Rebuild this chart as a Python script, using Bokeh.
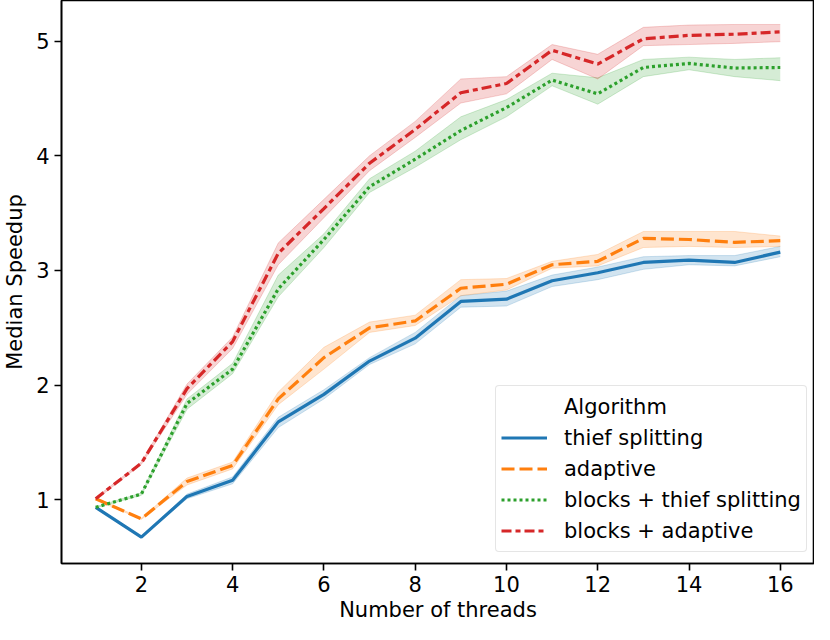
from bokeh.plotting import figure
from bokeh.models import Range1d, FixedTicker, Legend, LegendItem, ColumnDataSource
from bokeh.embed import file_html
from bokeh.resources import INLINE

threads = list(range(1, 17))

thief = [0.935, 0.675, 1.03, 1.17, 1.68, 1.92, 2.21, 2.41, 2.73, 2.75, 2.91, 2.98, 3.07, 3.09, 3.07, 3.16]
thief_lo = [0.93, 0.67, 1.01, 1.14, 1.63, 1.88, 2.18, 2.36, 2.68, 2.69, 2.86, 2.92, 3.01, 3.05, 3.04, 3.12]
thief_hi = [0.94, 0.68, 1.05, 1.20, 1.72, 1.96, 2.24, 2.46, 2.78, 2.82, 2.96, 3.03, 3.12, 3.13, 3.13, 3.21]

adaptive = [1.01, 0.835, 1.16, 1.30, 1.88, 2.24, 2.50, 2.56, 2.845, 2.88, 3.05, 3.08, 3.28, 3.27, 3.245, 3.26]
adaptive_lo = [1.00, 0.83, 1.13, 1.27, 1.83, 2.14, 2.46, 2.52, 2.78, 2.83, 3.02, 3.04, 3.20, 3.21, 3.20, 3.21]
adaptive_hi = [1.02, 0.84, 1.19, 1.33, 1.94, 2.33, 2.55, 2.61, 2.92, 2.93, 3.08, 3.14, 3.34, 3.34, 3.34, 3.30]

blocks_thief = [0.935, 1.05, 1.84, 2.14, 2.84, 3.27, 3.73, 3.97, 4.22, 4.42, 4.66, 4.54, 4.77, 4.805, 4.765, 4.77]
blocks_thief_lo = [0.93, 1.04, 1.79, 2.10, 2.77, 3.20, 3.68, 3.90, 4.14, 4.34, 4.61, 4.45, 4.69, 4.75, 4.69, 4.655]
blocks_thief_hi = [0.94, 1.06, 1.88, 2.19, 2.96, 3.32, 3.80, 4.04, 4.34, 4.49, 4.72, 4.68, 4.84, 4.86, 4.84, 4.855]

blocks_adaptive = [1.01, 1.32, 1.97, 2.38, 3.15, 3.54, 3.935, 4.23, 4.55, 4.63, 4.92, 4.80, 5.02, 5.05, 5.06, 5.08]
blocks_adaptive_lo = [1.00, 1.31, 1.92, 2.32, 3.05, 3.46, 3.87, 4.16, 4.46, 4.54, 4.84, 4.67, 4.96, 4.97, 4.98, 4.995]
blocks_adaptive_hi = [1.02, 1.33, 2.01, 2.42, 3.24, 3.62, 4.00, 4.30, 4.67, 4.69, 4.97, 4.885, 5.12, 5.14, 5.145, 5.145]

series_names = ["thief splitting", "adaptive", "blocks + thief splitting", "blocks + adaptive"]
legend_title = "Algorithm"
x_ticks = [2, 4, 6, 8, 10, 12, 14, 16]
y_ticks = [1, 2, 3, 4, 5]

colors = ["#1f77b4", "#ff7f0e", "#2ca02c", "#d62728"]
dashes = ["solid", "13 5", "3 3", "10 4 5 4"]

FONT = "DejaVu Sans"
FS = "21px"

p = figure(width=814, height=624, output_backend="svg", toolbar_location=None,
           x_range=Range1d(0.25, 16.75), y_range=Range1d(0.445, 5.354),
           min_border_left=50, min_border_right=0, min_border_top=0, min_border_bottom=60)
p.xgrid.visible = False
p.ygrid.visible = False
p.outline_line_color = "black"
p.outline_line_width = 1.6
p.background_fill_color = "white"
p.border_fill_color = "white"

for ax in (p.xaxis[0], p.yaxis[0]):
    ax.axis_line_width = 1.6
    ax.major_tick_line_width = 1.6
    ax.major_tick_out = 7
    ax.major_tick_in = 0
    ax.minor_tick_out = 0
    ax.minor_tick_in = 0
    ax.major_label_text_font = FONT
    ax.major_label_text_font_size = FS
    ax.major_label_text_color = "black"
    ax.axis_label_text_font = FONT
    ax.axis_label_text_font_size = FS
    ax.axis_label_text_font_style = "normal"
    ax.axis_label_text_color = "black"
    ax.major_label_standoff = 5

p.xaxis[0].ticker = FixedTicker(ticks=x_ticks)
p.yaxis[0].ticker = FixedTicker(ticks=y_ticks)
p.xaxis[0].axis_label = "Number of threads"
p.yaxis[0].axis_label = "Median Speedup"
p.xaxis[0].axis_label_standoff = 3
p.yaxis[0].axis_label_standoff = 6

data = [
    (thief, thief_lo, thief_hi),
    (adaptive, adaptive_lo, adaptive_hi),
    (blocks_thief, blocks_thief_lo, blocks_thief_hi),
    (blocks_adaptive, blocks_adaptive_lo, blocks_adaptive_hi),
]

# confidence bands first (below all lines)
for (mid, lo, hi), c in zip(data, colors):
    src = ColumnDataSource(dict(x=threads, lo=lo, hi=hi))
    p.varea(x="x", y1="lo", y2="hi", source=src, fill_color=c, fill_alpha=0.2)
    p.line(x="x", y="lo", source=src, line_color=c, line_alpha=0.2, line_width=1)
    p.line(x="x", y="hi", source=src, line_color=c, line_alpha=0.2, line_width=1)

line_renderers = []
for (mid, lo, hi), c, d in zip(data, colors, dashes):
    r = p.line(x=threads, y=mid, line_color=c, line_width=3.2, line_dash=d)
    line_renderers.append(r)

dummy = p.line(x=[1, 1], y=[1, 1], line_alpha=0, line_width=0)

items = [LegendItem(label=legend_title, renderers=[dummy])]
for name, r in zip(series_names, line_renderers):
    items.append(LegendItem(label=name, renderers=[r]))

legend = Legend(items=items, location=(434, 11))
legend.label_text_font = FONT
legend.label_text_font_size = FS
legend.label_text_color = "black"
legend.label_height = 31
legend.glyph_height = 31
legend.glyph_width = 46
legend.label_standoff = 17
legend.spacing = 0
legend.padding = 5
legend.margin = 0
legend.border_line_color = "#cccccc"
legend.border_line_width = 1.3
legend.border_radius = 4
legend.background_fill_alpha = 0.8
p.add_layout(legend, "center")

open("out.html", "w").write(file_html(p, INLINE))
